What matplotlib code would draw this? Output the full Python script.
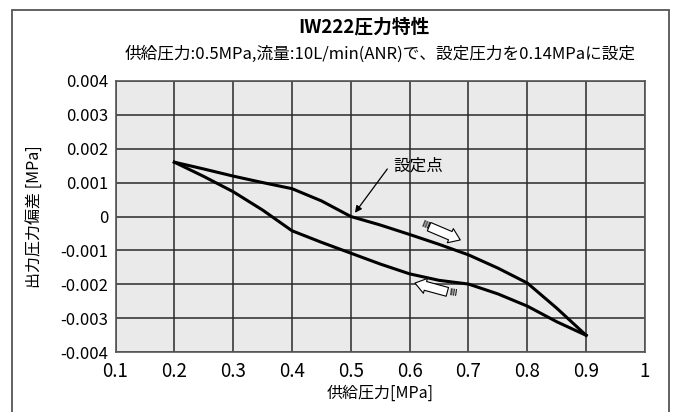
import matplotlib.pyplot as plt
from matplotlib.patches import Rectangle

plt.rcParams['font.family'] = ['Noto Sans CJK JP', 'DejaVu Sans']

# 供給圧力 [MPa]
supply = [0.2, 0.25, 0.3, 0.35, 0.4, 0.45, 0.5, 0.55, 0.6, 0.65, 0.7, 0.75, 0.8, 0.85, 0.9]
# 昇圧時 (上側の曲線)
rising = [0.0016, 0.00140, 0.00119, 0.00100, 0.00082, 0.00046, 0.0, -0.00025,
          -0.00053, -0.00082, -0.00113, -0.00152, -0.00196, -0.0027, -0.0035]
# 降圧時 (下側の曲線)
falling = [0.0016, 0.00118, 0.00073, 0.00019, -0.00042, -0.00076, -0.00108, -0.00140,
           -0.00169, -0.00188, -0.00199, -0.00228, -0.00264, -0.0031, -0.0035]

xticks = [0.1, 0.2, 0.3, 0.4, 0.5, 0.6, 0.7, 0.8, 0.9, 1.0]
xlabels = ['0.1', '0.2', '0.3', '0.4', '0.5', '0.6', '0.7', '0.8', '0.9', '1']
yticks = [0.004, 0.003, 0.002, 0.001, 0.0, -0.001, -0.002, -0.003, -0.004]
ylabels = ['0.004', '0.003', '0.002', '0.001', '0', '-0.001', '-0.002', '-0.003', '-0.004']

fig = plt.figure(figsize=(6.78, 4.12), dpi=100)
ax = fig.add_axes([0.1704, 0.1449, 0.7809, 0.6592])
ax.set_facecolor('#e9eae9')

ax.plot(supply, rising, color='black', lw=2.2, solid_joinstyle='round')
ax.plot(supply, falling, color='black', lw=2.2, solid_joinstyle='round')

ax.set_xlim(0.1, 1.0)
ax.set_ylim(-0.004, 0.004)
ax.set_xticks(xticks)
ax.set_xticklabels(xlabels, fontsize=13.5)
ax.set_yticks(yticks)
ax.set_yticklabels(ylabels, fontsize=12)
ax.tick_params(length=0, pad=5)
ax.tick_params(axis='x', pad=6)
ax.grid(True, color='#2a2a2a', lw=1.1)
ax.set_axisbelow(True)
for s in ax.spines.values():
    s.set_color('#555555')
    s.set_linewidth(1.2)

ax.set_xlabel('供給圧力[MPa]', fontsize=11.5, labelpad=2)
ax.set_ylabel('出力圧力偏差 [MPa]', fontsize=11.5, labelpad=12)

# 設定点
ax.text(0.572, 0.00149, '設定点', fontsize=12, ha='left', va='center')
ax.annotate('', xy=(0.507, 0.00011), xytext=(0.562, 0.00140),
            arrowprops=dict(arrowstyle='-|>', color='black', lw=0.9,
                            shrinkA=0, shrinkB=0, mutation_scale=10))

# 方向を示す白抜き矢印
ax.annotate('', xy=(0.686, -0.00069), xytext=(0.633, -0.00030),
            arrowprops=dict(arrowstyle='simple,head_length=0.6,head_width=0.85,tail_width=0.5',
                            fc='white', ec='black', lw=0.8, shrinkA=0, shrinkB=0,
                            mutation_scale=13))
ax.annotate('', xy=(0.609, -0.00196), xytext=(0.664, -0.00222),
            arrowprops=dict(arrowstyle='simple,head_length=0.6,head_width=0.85,tail_width=0.5',
                            fc='white', ec='black', lw=0.8, shrinkA=0, shrinkB=0,
                            mutation_scale=13))
ax.text(0.626, -0.00025, 'ⅢⅠ', fontsize=6.5, rotation=-22, ha='center', va='center',
        family=['DejaVu Sans'])
ax.text(0.673, -0.00225, 'ⅠⅢ', fontsize=6.5, rotation=-8, ha='center', va='center',
        family=['DejaVu Sans'])

fig.text(364 / 678, 1 - 27 / 412, 'IW222圧力特性', fontsize=13.5, fontweight='bold',
         ha='center', va='center')
fig.text(380 / 678, 1 - 54 / 412,
         '供給圧力:0.5MPa,流量:10L/min(ANR)で、設定圧力を0.14MPaに設定',
         fontsize=12, ha='center', va='center')

fig.patches.append(Rectangle((11.5 / 678, -0.05), (669 - 11.5) / 678, 1 + 0.05 - 10 / 412,
                             transform=fig.transFigure, fill=False,
                             ec='#555555', lw=1.3, clip_on=False))

fig.savefig('out.png', dpi=100)
